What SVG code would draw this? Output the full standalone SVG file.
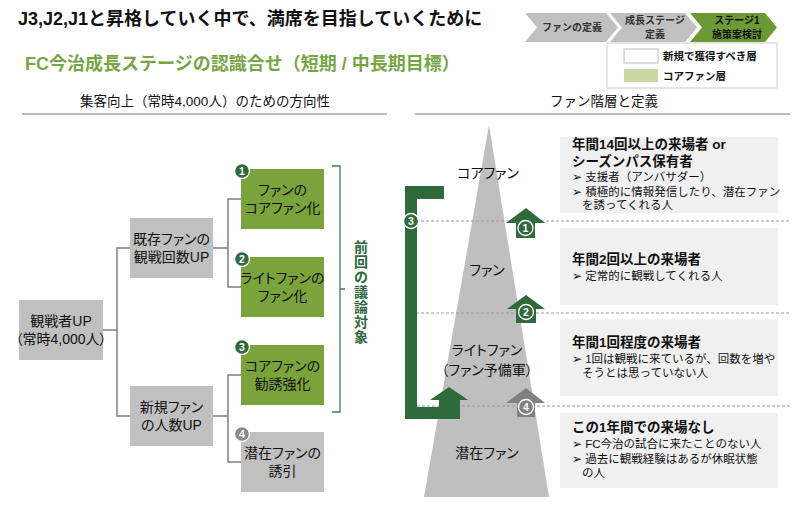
<svg xmlns="http://www.w3.org/2000/svg" width="800" height="513" viewBox="0 0 800 513">
<style>
text{font-family:"Liberation Sans","Noto Sans CJK JP",sans-serif;fill:#111}
.t{font-size:18px;font-weight:bold}
.sub{font-size:18px;font-weight:bold;fill:#76a644}
.hd{font-size:13.5px;text-anchor:middle}
.chv{font-size:10px;font-weight:bold;text-anchor:middle;fill:#333}
.lg{font-size:10.5px;font-weight:bold}
.bx{font-size:14px;text-anchor:middle;font-feature-settings:"palt"}
.gray{fill:#c0c0c0}
.grn{fill:#7aa33c}
.dk{fill:#2e6a3b}
.badge{stroke:#fff;stroke-width:1.3}
.bn{font-size:10.5px;font-weight:bold;fill:#fff;text-anchor:middle}
.ln{fill:none;stroke:#808080;stroke-width:1.5}
.dash{stroke:#999;stroke-width:1;stroke-dasharray:3 2;fill:none}
.vt{font-size:14px;font-weight:bold;fill:#2e6a3b;text-anchor:middle}
.py{font-size:14px;text-anchor:middle;font-feature-settings:"palt"}
.card{fill:#f0f0f0}
.ch{font-size:13.5px;font-weight:bold}
.cb{font-size:11.5px}
</style>
<rect width="800" height="513" fill="#fff"/>
<text class="t" x="18" y="25">J3,J2,J1と昇格していく中で、満席を目指していくために</text>
<text class="sub" x="25" y="70">FC今治成長ステージの認識合せ（短期 / 中長期目標）</text>

<g id="chevrons">
<polygon class="gray" points="525,13 606,13 618,27.5 606,42 525,42 537,27.5"/>
<text class="chv" x="572" y="31">ファンの定義</text>
<polygon class="gray" points="610,13 685,13 697,27.5 685,42 610,42 622,27.5"/>
<text class="chv" x="655" y="24">成長ステージ</text>
<text class="chv" x="655" y="38">定義</text>
<polygon fill="#6b9a35" points="690,13 765,13 777,27.5 765,42 690,42 702,27.5"/>
<text class="chv" x="737" y="24" style="fill:#111">ステージ1</text>
<text class="chv" x="737" y="38" style="fill:#111">施策案検討</text>
</g>

<g id="legend">
<rect x="607" y="43" width="170" height="45" fill="#fff" stroke="#ccc" stroke-width="1"/>
<rect x="624" y="49" width="34" height="14" fill="#fff" stroke="#bbb" stroke-width="1"/>
<rect x="624" y="69" width="34" height="13" fill="#c5d9a0"/>
<text class="lg" x="663" y="60">新規で獲得すべき層</text>
<text class="lg" x="663" y="80">コアファン層</text>
</g>

<text class="hd" x="205" y="106">集客向上（常時4,000人）のための方向性</text>
<line x1="22" y1="114" x2="387" y2="114" stroke="#777" stroke-width="1.2"/>
<text class="hd" x="604" y="106">ファン階層と定義</text>
<line x1="415" y1="114" x2="790" y2="114" stroke="#777" stroke-width="1.2"/>

<g id="connectors">
<polyline class="ln" points="103,330 117,330"/>
<polyline class="ln" points="130,248 117,248 117,416 130,416"/>
<polyline class="ln" points="213,248 228,248"/>
<polyline class="ln" points="241,199 228,199 228,287 241,287"/>
<polyline class="ln" points="213,416 228,416"/>
<polyline class="ln" points="241,375 228,375 228,462 241,462"/>
<path d="M332,166 H340 V289 H345 M340,289 V412 H332" fill="none" stroke="#4a7a55" stroke-width="1.3"/>
</g>

<g id="root">
<rect class="gray" x="19" y="300" width="84" height="60"/>
<text class="bx" x="61" y="326">観戦者UP</text>
<text class="bx" x="61" y="344">（常時4,000人）</text>
</g>
<g id="existing">
<rect class="gray" x="130" y="218" width="83" height="60"/>
<text class="bx" x="171.5" y="244">既存ファンの</text>
<text class="bx" x="171.5" y="262">観戦回数UP</text>
</g>
<g id="newfan">
<rect class="gray" x="130" y="386" width="83" height="60"/>
<text class="bx" x="171.5" y="412">新規ファン</text>
<text class="bx" x="171.5" y="430">の人数UP</text>
</g>
<g id="s1">
<rect class="grn" x="241" y="169" width="83" height="60"/>
<text class="bx" x="282.5" y="195">ファンの</text>
<text class="bx" x="282.5" y="213">コアファン化</text>
<circle class="dk badge" cx="242" cy="171" r="7.5"/>
<text class="bn" x="242" y="174.7">1</text>
</g>
<g id="s2">
<rect class="grn" x="241" y="257" width="83" height="60"/>
<text class="bx" x="282.5" y="283">ライトファンの</text>
<text class="bx" x="282.5" y="301">ファン化</text>
<circle class="dk badge" cx="242" cy="259" r="7.5"/>
<text class="bn" x="242" y="262.7">2</text>
</g>
<g id="s3">
<rect class="grn" x="241" y="345" width="83" height="60"/>
<text class="bx" x="282.5" y="371">コアファンの</text>
<text class="bx" x="282.5" y="389">勧誘強化</text>
<circle class="dk badge" cx="242" cy="347" r="7.5"/>
<text class="bn" x="242" y="350.7">3</text>
</g>
<g id="s4">
<rect class="gray" x="241" y="432" width="83" height="60"/>
<text class="bx" x="282.5" y="458">潜在ファンの</text>
<text class="bx" x="282.5" y="476">誘引</text>
<circle class="badge" fill="#8a8a8a" cx="242" cy="434" r="7.5"/>
<text class="bn" x="242" y="437.7">4</text>
</g>

<g id="prev-label">
<text class="vt" x="361" y="252">前</text>
<text class="vt" x="361" y="267">回</text>
<text class="vt" x="361" y="282">の</text>
<text class="vt" x="361" y="297">議</text>
<text class="vt" x="361" y="312">論</text>
<text class="vt" x="361" y="327">対</text>
<text class="vt" x="361" y="342">象</text>
</g>

<g id="pyramid">
<polygon fill="#bfbfbf" points="489,125 549,497 424,497"/>
<text class="py" x="488" y="178">コアファン</text>
<text class="py" x="487" y="275">ファン</text>
<text class="py" x="487" y="355">ライトファン</text>
<text class="py" x="487" y="375">（ファン予備軍）</text>
<text class="py" x="487" y="458">潜在ファン</text>
</g>

<g id="dividers">
<line class="dash" x1="411" y1="221" x2="790" y2="221"/>
<line class="dash" x1="411" y1="313" x2="790" y2="313"/>
<line class="dash" x1="417" y1="406" x2="790" y2="406"/>
</g>

<g id="arrow3">
<path class="dk" d="M405,186 H444 V199 H417 V407 H439 V400 H430 L449,387 L468,400 H460 V419 H405 Z"/>
<circle class="dk badge" cx="411" cy="221" r="7.5"/>
<text class="bn" x="411" y="224.7">3</text>
</g>
<g id="arrow1">
<path class="dk" d="M526,208 L545,223 H535 V238 H516 V223 H506 Z"/>
<circle class="dk badge" cx="525.5" cy="228" r="7.5"/>
<text class="bn" x="525.5" y="231.7">1</text>
</g>
<g id="arrow2">
<path class="dk" d="M526,295 L545,309 H536 V323 H516 V309 H507 Z"/>
<circle class="dk badge" cx="526" cy="312" r="7.5"/>
<text class="bn" x="526" y="315.7">2</text>
</g>
<g id="arrow4">
<path fill="#808080" d="M526,388 L545,403 H535 V417 H517 V403 H506 Z"/>
<circle class="badge" fill="#808080" cx="526" cy="407" r="7.5"/>
<text class="bn" x="526" y="410.7">4</text>
</g>

<g id="card1">
<rect class="card" x="560" y="137" width="218" height="76"/>
<text class="ch" x="572" y="149">年間14回以上の来場者 or</text>
<text class="ch" x="572" y="166">シーズンパス保有者</text>
<text class="cb" x="572" y="181">➢ 支援者（アンバサダー）</text>
<text class="cb" x="572" y="196">➢ 積極的に情報発信したり、潜在ファン</text>
<text class="cb" x="582" y="209">を誘ってくれる人</text>
</g>
<g id="card2">
<rect class="card" x="560" y="228" width="218" height="77"/>
<text class="ch" x="572" y="264">年間2回以上の来場者</text>
<text class="cb" x="572" y="280">➢ 定常的に観戦してくれる人</text>
</g>
<g id="card3">
<rect class="card" x="560" y="319" width="218" height="77"/>
<text class="ch" x="572" y="347">年間1回程度の来場者</text>
<text class="cb" x="572" y="363">➢ 1回は観戦に来ているが、回数を増や</text>
<text class="cb" x="582" y="377">そうとは思っていない人</text>
</g>
<g id="card4">
<rect class="card" x="560" y="413" width="218" height="75"/>
<text class="ch" x="572" y="432">この1年間での来場なし</text>
<text class="cb" x="572" y="448">➢ FC今治の試合に来たことのない人</text>
<text class="cb" x="572" y="463">➢ 過去に観戦経験はあるが休眠状態</text>
<text class="cb" x="582" y="477">の人</text>
</g>
</svg>
